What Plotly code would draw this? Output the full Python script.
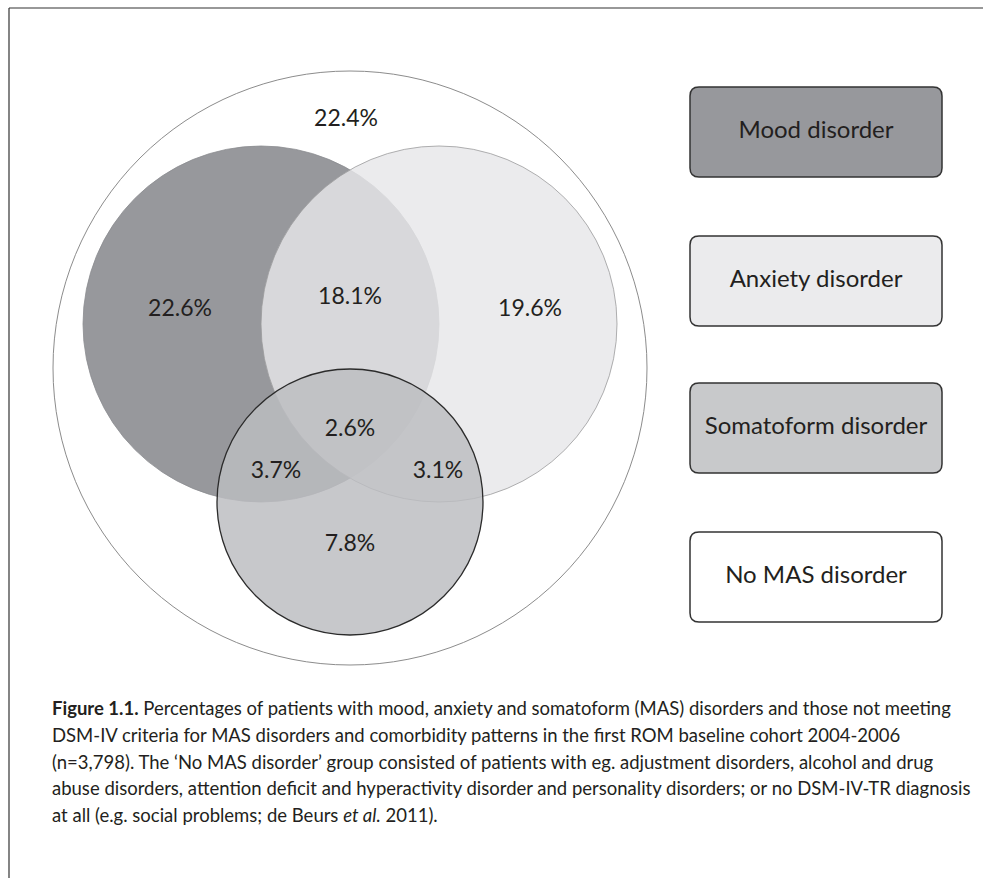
import plotly.graph_objects as go

# ---- data ----
region_labels = ["22.4%", "22.6%", "18.1%", "19.6%", "2.6%", "3.7%", "3.1%", "7.8%"]
region_names = ["none", "mood", "mood+anxiety", "anxiety", "all", "mood+soma", "anxiety+soma", "soma"]
legend_labels = ["Mood disorder", "Anxiety disorder", "Somatoform disorder", "No MAS disorder"]
caption_lines = [
    "<b>Figure 1.1.</b> Percentages of patients with mood, anxiety and somatoform (MAS) disorders and those not meeting",
    "DSM-IV criteria for MAS disorders and comorbidity patterns in the first ROM baseline cohort 2004-2006",
    "(n=3,798). The \u2018No MAS disorder\u2019 group consisted of patients with eg. adjustment disorders, alcohol and drug",
    "abuse disorders, attention deficit and hyperactivity disorder and personality disorders; or no DSM-IV-TR diagnosis",
    "at all (e.g. social problems; de Beurs <i>et al.</i> 2011).",
]

# ---- layout geometry (pixel-like coordinates) ----
W, H = 983, 878
circles = {
    "outer": dict(cx=350, cy=368, r=297, fill="rgba(255,255,255,0)", line="#8c8c8c", lw=1),
    "mood": dict(cx=261, cy=324, r=178, fill="#97989c", line="#8a8b8f", lw=0.8),
    "anxiety": dict(cx=439, cy=324, r=178, fill="rgba(230,230,233,0.82)", line="#9a9a9c", lw=0.8),
    "soma": dict(cx=350, cy=502, r=133, fill="rgba(188,189,192,0.83)", line="#2b2b2b", lw=1.3),
}
label_pos = {
    "none": (346, 120), "mood": (180, 310), "mood+anxiety": (350, 298), "anxiety": (530, 310),
    "all": (350, 430), "mood+soma": (276, 472), "anxiety+soma": (438, 472), "soma": (350, 545),
}
legend_fill = ["#97989c", "#ebebed", "#c8c9cb", "#ffffff"]
legend_box = dict(x0=690, x1=942, h=90, tops=[87, 236, 383, 532], rad=9)

FONT = "Lato, 'Open Sans', sans-serif"
TXT = "#231f20"

fig = go.Figure()
shapes = []
for key in ["outer", "mood", "anxiety", "soma"]:
    c = circles[key]
    shapes.append(dict(type="circle", xref="x", yref="y",
                       x0=c["cx"] - c["r"], x1=c["cx"] + c["r"],
                       y0=c["cy"] - c["r"], y1=c["cy"] + c["r"],
                       fillcolor=c["fill"], line=dict(color=c["line"], width=c["lw"]),
                       layer="below"))

def rounded_rect(x0, y0, x1, y1, r):
    return (f"M {x0+r},{y0} L {x1-r},{y0} Q {x1},{y0} {x1},{y0+r} "
            f"L {x1},{y1-r} Q {x1},{y1} {x1-r},{y1} L {x0+r},{y1} "
            f"Q {x0},{y1} {x0},{y1-r} L {x0},{y0+r} Q {x0},{y0} {x0+r},{y0} Z")

for i, lab in enumerate(legend_labels):
    t = legend_box["tops"][i]
    shapes.append(dict(type="path", xref="x", yref="y",
                       path=rounded_rect(legend_box["x0"], t, legend_box["x1"], t + legend_box["h"], legend_box["rad"]),
                       fillcolor=legend_fill[i], line=dict(color="#333333", width=1.5), layer="below"))

# frame lines (top and left)
shapes.append(dict(type="line", xref="x", yref="y", x0=9, x1=W, y0=8, y1=8, line=dict(color="#333333", width=1.2)))
shapes.append(dict(type="line", xref="x", yref="y", x0=9, x1=9, y0=8, y1=H, line=dict(color="#333333", width=1.2)))

fig.add_trace(go.Scatter(
    x=[label_pos[n][0] for n in region_names],
    y=[label_pos[n][1] for n in region_names],
    mode="text", text=region_labels,
    textfont=dict(family=FONT, size=23, color=TXT),
    hoverinfo="skip", showlegend=False))

fig.add_trace(go.Scatter(
    x=[(legend_box["x0"] + legend_box["x1"]) / 2] * len(legend_labels),
    y=[t + legend_box["h"] / 2 for t in legend_box["tops"]],
    mode="text", text=legend_labels,
    textfont=dict(family=FONT, size=24, color=TXT),
    hoverinfo="skip", showlegend=False))

annotations = []
for i, line in enumerate(caption_lines):
    annotations.append(dict(x=50, y=708 + i * 26.8, xref="x", yref="y", text=line,
                            showarrow=False, xanchor="left", yanchor="middle",
                            font=dict(family=FONT, size=18.5, color=TXT)))

fig.update_layout(
    width=W, height=H, autosize=False,
    margin=dict(l=0, r=0, t=0, b=0),
    paper_bgcolor="white", plot_bgcolor="white",
    xaxis=dict(range=[0, W], visible=False, fixedrange=True),
    yaxis=dict(range=[H, 0], visible=False, fixedrange=True),
    shapes=shapes, annotations=annotations, showlegend=False,
)
fig.write_html("out.html", config={"displayModeBar": False},
               post_script="document.body.style.margin='0';document.body.style.overflow='hidden';")
